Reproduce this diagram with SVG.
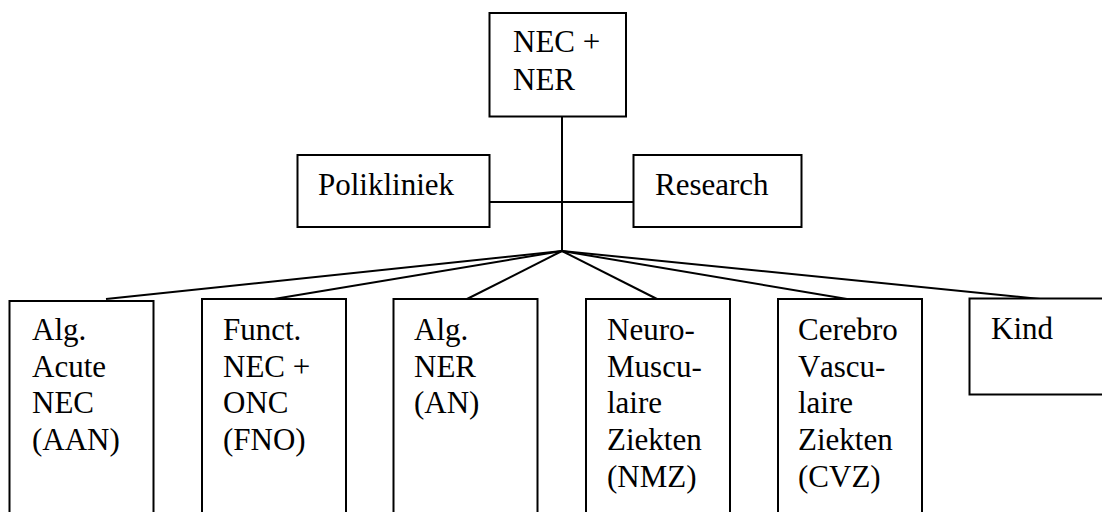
<svg xmlns="http://www.w3.org/2000/svg" width="1102" height="512" viewBox="0 0 1102 512">
<style>
.box{fill:#fff;stroke:#000;stroke-width:2}
.t{font-family:'Liberation Serif','Times New Roman','DejaVu Serif',serif;font-size:31px;fill:#000}
.c{stroke:#000;stroke-width:2;fill:none}
</style>
<rect width="1102" height="512" fill="#fff"/>
<g id="connectors">
<line class="c" x1="562" y1="117" x2="562" y2="251"/>
<line class="c" x1="490" y1="202" x2="633" y2="202"/>
<line class="c" x1="562" y1="251" x2="106" y2="299"/>
<line class="c" x1="562" y1="251" x2="274" y2="299"/>
<line class="c" x1="562" y1="251" x2="467" y2="299"/>
<line class="c" x1="562" y1="251" x2="657" y2="299"/>
<line class="c" x1="562" y1="251" x2="847" y2="299"/>
<line class="c" x1="562" y1="251" x2="1040" y2="299"/>
</g>
<g id="nec-ner">
<rect class="box" x="489.5" y="13" width="136.5" height="103.5"/>
<text class="t" x="513" y="52">NEC +</text>
<text class="t" x="513" y="90">NER</text>
</g>
<g id="polikliniek">
<rect class="box" x="297.5" y="155" width="192" height="72"/>
<text class="t" x="318" y="195">Polikliniek</text>
</g>
<g id="research">
<rect class="box" x="633.5" y="155" width="168" height="72"/>
<text class="t" x="655" y="195">Research</text>
</g>
<g id="aan">
<rect class="box" x="9.5" y="301" width="144" height="220"/>
<text class="t" x="32" y="340">Alg.</text>
<text class="t" x="32" y="377">Acute</text>
<text class="t" x="32" y="413">NEC</text>
<text class="t" x="32" y="450">(AAN)</text>
</g>
<g id="fno">
<rect class="box" x="202" y="299" width="144" height="222"/>
<text class="t" x="223" y="340">Funct.</text>
<text class="t" x="223" y="377">NEC +</text>
<text class="t" x="223" y="413">ONC</text>
<text class="t" x="223" y="450">(FNO)</text>
</g>
<g id="an">
<rect class="box" x="393.5" y="299" width="144" height="222"/>
<text class="t" x="414" y="340">Alg.</text>
<text class="t" x="414" y="377">NER</text>
<text class="t" x="414" y="413">(AN)</text>
</g>
<g id="nmz">
<rect class="box" x="586" y="299" width="144" height="222"/>
<text class="t" x="607" y="340">Neuro-</text>
<text class="t" x="607" y="377">Muscu-</text>
<text class="t" x="607" y="413">laire</text>
<text class="t" x="607" y="450">Ziekten</text>
<text class="t" x="607" y="487">(NMZ)</text>
</g>
<g id="cvz">
<rect class="box" x="778" y="299" width="144" height="222"/>
<text class="t" x="798" y="340">Cerebro</text>
<text class="t" x="798" y="377">V<tspan dx="3">ascu-</tspan></text>
<text class="t" x="798" y="413">laire</text>
<text class="t" x="798" y="450">Ziekten</text>
<text class="t" x="798" y="487">(CVZ)</text>
</g>
<g id="kind">
<rect class="box" x="969.5" y="298.5" width="140" height="96"/>
<text class="t" x="991" y="339">Kind</text>
</g>
</svg>
